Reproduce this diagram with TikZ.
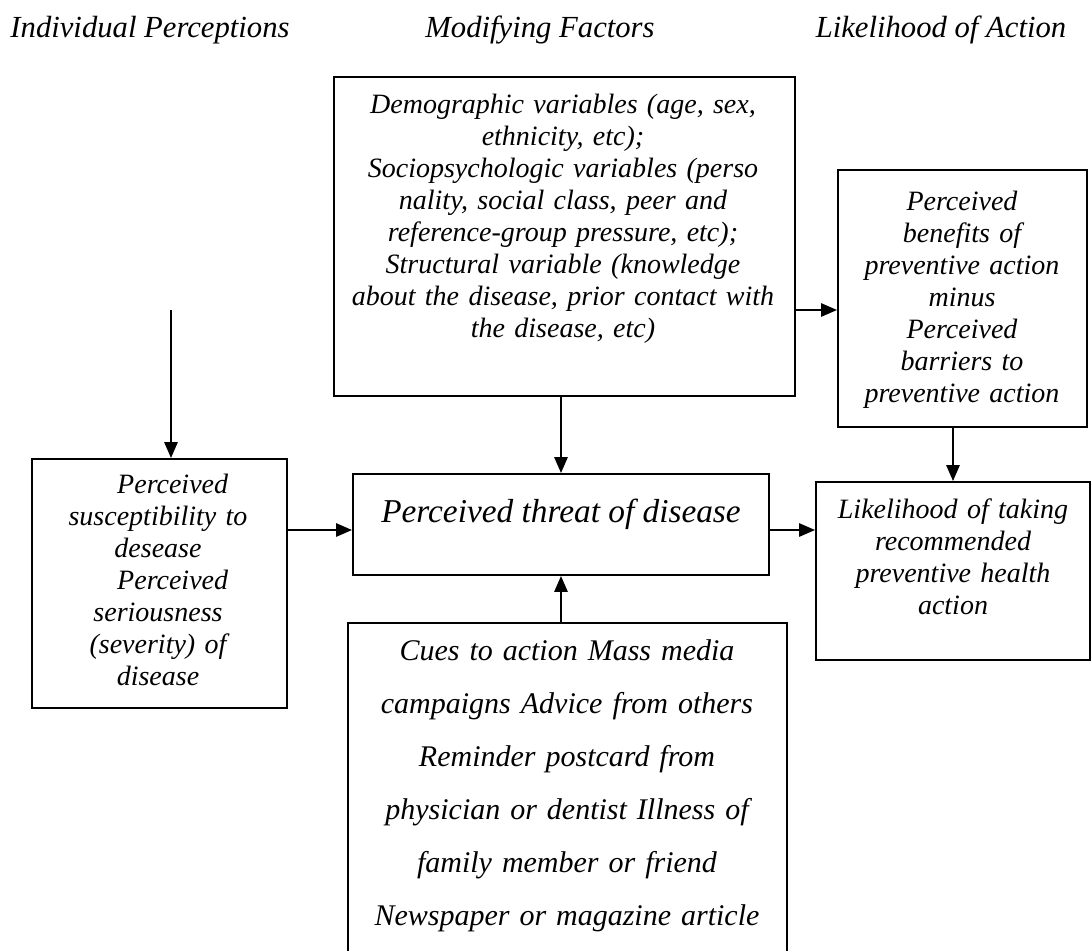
\documentclass[tikz,border=0pt]{standalone}
\usepackage{fontspec}
\setmainfont{Liberation Serif}
\usetikzlibrary{arrows.meta,fit}
\begin{document}
\begin{tikzpicture}[x=0.75pt,y=-0.75pt,
  box/.style={draw, line width=1.45pt, inner sep=0pt, rectangle},
  txt/.style={align=center, inner sep=0pt, anchor=base,
    font={\fontsize{21}{24}\selectfont\itshape}},
  head/.style={inner sep=0pt, anchor=base,
    font={\fontsize{23}{27}\selectfont\itshape}},
  arr/.style={line width=1.45pt, -{Triangle[length=12pt,width=10pt]}}
]
\fill[white] (0,0) rectangle (1092,950);
\useasboundingbox (0,0) rectangle (1092,950);
\clip (0,0) rectangle (1092,950);

% column headings
\node[head] (h1) at (150,37) {Individual Perceptions};
\node[head] (h2) at (540,37) {Modifying Factors};
\node[head] (h3) at (941,37) {Likelihood of Action};

% boxes
\node[box, fit={(334,77) (795,396)}] (demo) {};
\node[box, fit={(838,170) (1087,427)}] (benefits) {};
\node[box, fit={(32,459) (287,708)}] (left) {};
\node[box, fit={(353,474) (769,575)}] (threat) {};
\node[box, fit={(816,482) (1090,660)}] (likely) {};
\node[box, fit={(348,623) (787,1000)}] (cues) {};

% box texts
\node[txt, text width=440pt] (demotxt) at (563,113) {Demographic variables (age, sex,\\
ethnicity, etc);\\
Sociopsychologic variables (perso\\
nality, social class, peer and\\
reference-group pressure, etc);\\
Structural variable (knowledge\\
about the disease, prior contact with\\
the disease, etc)};

\node[txt, text width=180pt] (bentxt) at (962,210) {Perceived\\
benefits of\\
preventive action\\
minus\\
Perceived\\
barriers to\\
preventive action};

\node[txt, text width=180pt] (lefttxt) at (158,493) {\hspace*{22pt}Perceived\\
susceptibility to\\
desease\\
\hspace*{22pt}Perceived\\
seriousness\\
(severity) of\\
disease};

\node[txt, font={\fontsize{25}{30}\selectfont\itshape}] (threattxt) at (561,522) {Perceived threat of disease};

\node[txt, text width=200pt] (liketxt) at (953,518) {Likelihood of taking\\
recommended\\
preventive health\\
action};

\node[txt, text width=320pt, font={\fontsize{22.5}{39.75}\selectfont\itshape}] (cuestxt) at (567,660) {Cues to action Mass media\\
campaigns Advice from others\\
Reminder postcard from\\
physician or dentist Illness of\\
family member or friend\\
Newspaper or magazine article};

% connectors
\coordinate (ipin) at (171,310);
\coordinate (brow) at (0,310);
\coordinate (trow) at (0,530);
\draw[arr] (ipin) -- (ipin |- left.north);
\draw[arr] (left.east |- trow) -- (threat.west |- trow);
\draw[arr] (threat.north |- demo.south) -- (threat.north);
\draw[arr] (threat.south |- cues.north) -- (threat.south);
\draw[arr] (demo.east |- brow) -- (benefits.west |- brow);
\draw[arr] (threat.east |- trow) -- (likely.west |- trow);
\draw[arr] (likely.north |- benefits.south) -- (likely.north);
\end{tikzpicture}
\end{document}
